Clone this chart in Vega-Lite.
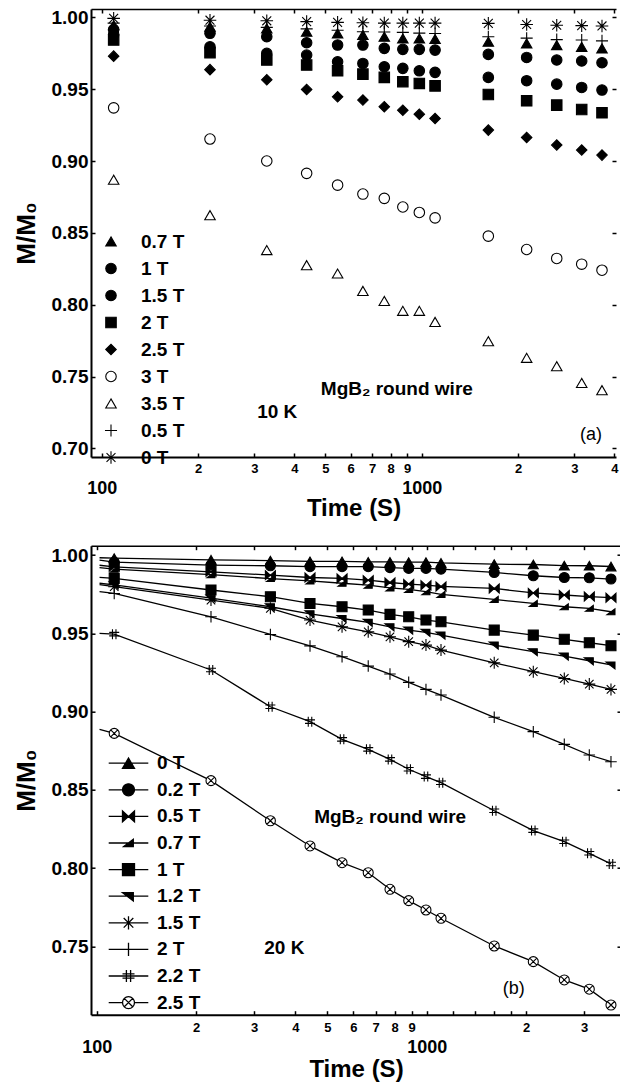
{
  "$schema": "https://vega.github.io/schema/vega-lite/v6.json",
  "padding": {"left": 13, "top": 8, "right": 0, "bottom": 0},
  "bounds": "flush",
  "spacing": 88.7,
  "background": "white",
  "config": {
    "font": "Liberation Sans",
    "view": {"stroke": null},
    "axis": {"grid": false, "domainColor": "black", "tickColor": "black", "labelColor": "black", "titleColor": "black", "labelFont": "Liberation Sans", "titleFont": "Liberation Sans", "labelFontWeight": "bold", "titleFontWeight": "bold", "domainWidth": 2, "tickWidth": 1.5, "tickSize": -4, "labelFlush": false, "labelOverlap": false, "labelBound": false},
    "legend": {"labelFont": "Liberation Sans", "labelFontWeight": "bold", "labelColor": "black", "labelFontSize": 19, "padding": 0, "symbolStrokeColor": "black", "symbolOpacity": 1, "direction": "vertical", "orient": "none"}
  },
  "datasets": {
    "a": [
      {"s": "0 T", "t": 109, "v": 0.9993}, {"s": "0 T", "t": 218, "v": 0.998}, {"s": "0 T", "t": 328, "v": 0.9976}, {"s": "0 T", "t": 437, "v": 0.997}, {"s": "0 T", "t": 546, "v": 0.9965}, {"s": "0 T", "t": 655, "v": 0.9962}, {"s": "0 T", "t": 764, "v": 0.996}, {"s": "0 T", "t": 873, "v": 0.996}, {"s": "0 T", "t": 983, "v": 0.996}, {"s": "0 T", "t": 1101, "v": 0.996}, {"s": "0 T", "t": 1615, "v": 0.9958}, {"s": "0 T", "t": 2128, "v": 0.995}, {"s": "0 T", "t": 2642, "v": 0.9945}, {"s": "0 T", "t": 3162, "v": 0.9942}, {"s": "0 T", "t": 3659, "v": 0.994},
      {"s": "0.5 T", "t": 109, "v": 0.996}, {"s": "0.5 T", "t": 218, "v": 0.994}, {"s": "0.5 T", "t": 328, "v": 0.993}, {"s": "0.5 T", "t": 437, "v": 0.992}, {"s": "0.5 T", "t": 546, "v": 0.991}, {"s": "0.5 T", "t": 655, "v": 0.99}, {"s": "0.5 T", "t": 764, "v": 0.9898}, {"s": "0.5 T", "t": 873, "v": 0.9895}, {"s": "0.5 T", "t": 983, "v": 0.989}, {"s": "0.5 T", "t": 1101, "v": 0.9888}, {"s": "0.5 T", "t": 1615, "v": 0.9865}, {"s": "0.5 T", "t": 2128, "v": 0.9855}, {"s": "0.5 T", "t": 2642, "v": 0.9845}, {"s": "0.5 T", "t": 3162, "v": 0.9842}, {"s": "0.5 T", "t": 3659, "v": 0.9836},
      {"s": "0.7 T", "t": 109, "v": 0.9945}, {"s": "0.7 T", "t": 218, "v": 0.9935}, {"s": "0.7 T", "t": 328, "v": 0.9923}, {"s": "0.7 T", "t": 437, "v": 0.99}, {"s": "0.7 T", "t": 546, "v": 0.9888}, {"s": "0.7 T", "t": 655, "v": 0.9877}, {"s": "0.7 T", "t": 764, "v": 0.9865}, {"s": "0.7 T", "t": 873, "v": 0.9853}, {"s": "0.7 T", "t": 983, "v": 0.9853}, {"s": "0.7 T", "t": 1101, "v": 0.9849}, {"s": "0.7 T", "t": 1615, "v": 0.983}, {"s": "0.7 T", "t": 2128, "v": 0.9819}, {"s": "0.7 T", "t": 2642, "v": 0.9807}, {"s": "0.7 T", "t": 3162, "v": 0.9795}, {"s": "0.7 T", "t": 3659, "v": 0.9784},
      {"s": "1 T", "t": 109, "v": 0.9915}, {"s": "1 T", "t": 218, "v": 0.9889}, {"s": "1 T", "t": 328, "v": 0.9865}, {"s": "1 T", "t": 437, "v": 0.9823}, {"s": "1 T", "t": 546, "v": 0.9807}, {"s": "1 T", "t": 655, "v": 0.9807}, {"s": "1 T", "t": 764, "v": 0.9784}, {"s": "1 T", "t": 873, "v": 0.9777}, {"s": "1 T", "t": 983, "v": 0.9777}, {"s": "1 T", "t": 1101, "v": 0.9772}, {"s": "1 T", "t": 1615, "v": 0.9742}, {"s": "1 T", "t": 2128, "v": 0.9721}, {"s": "1 T", "t": 2642, "v": 0.9703}, {"s": "1 T", "t": 3162, "v": 0.9696}, {"s": "1 T", "t": 3659, "v": 0.9684},
      {"s": "1.5 T", "t": 109, "v": 0.988}, {"s": "1.5 T", "t": 218, "v": 0.9795}, {"s": "1.5 T", "t": 328, "v": 0.9749}, {"s": "1.5 T", "t": 437, "v": 0.9737}, {"s": "1.5 T", "t": 546, "v": 0.9691}, {"s": "1.5 T", "t": 655, "v": 0.9679}, {"s": "1.5 T", "t": 764, "v": 0.9656}, {"s": "1.5 T", "t": 873, "v": 0.9645}, {"s": "1.5 T", "t": 983, "v": 0.9628}, {"s": "1.5 T", "t": 1101, "v": 0.9617}, {"s": "1.5 T", "t": 1615, "v": 0.9582}, {"s": "1.5 T", "t": 2128, "v": 0.9559}, {"s": "1.5 T", "t": 2642, "v": 0.9535}, {"s": "1.5 T", "t": 3162, "v": 0.9512}, {"s": "1.5 T", "t": 3659, "v": 0.9494},
      {"s": "2 T", "t": 109, "v": 0.9842}, {"s": "2 T", "t": 218, "v": 0.9754}, {"s": "2 T", "t": 328, "v": 0.9703}, {"s": "2 T", "t": 437, "v": 0.9668}, {"s": "2 T", "t": 546, "v": 0.9628}, {"s": "2 T", "t": 655, "v": 0.9605}, {"s": "2 T", "t": 764, "v": 0.9582}, {"s": "2 T", "t": 873, "v": 0.9552}, {"s": "2 T", "t": 983, "v": 0.954}, {"s": "2 T", "t": 1101, "v": 0.9523}, {"s": "2 T", "t": 1615, "v": 0.9463}, {"s": "2 T", "t": 2128, "v": 0.9419}, {"s": "2 T", "t": 2642, "v": 0.9389}, {"s": "2 T", "t": 3162, "v": 0.9359}, {"s": "2 T", "t": 3659, "v": 0.9336},
      {"s": "2.5 T", "t": 109, "v": 0.973}, {"s": "2.5 T", "t": 218, "v": 0.9636}, {"s": "2.5 T", "t": 328, "v": 0.9565}, {"s": "2.5 T", "t": 437, "v": 0.9498}, {"s": "2.5 T", "t": 546, "v": 0.9447}, {"s": "2.5 T", "t": 655, "v": 0.9424}, {"s": "2.5 T", "t": 764, "v": 0.9378}, {"s": "2.5 T", "t": 873, "v": 0.9354}, {"s": "2.5 T", "t": 983, "v": 0.9326}, {"s": "2.5 T", "t": 1101, "v": 0.9296}, {"s": "2.5 T", "t": 1615, "v": 0.9215}, {"s": "2.5 T", "t": 2128, "v": 0.9164}, {"s": "2.5 T", "t": 2642, "v": 0.9111}, {"s": "2.5 T", "t": 3162, "v": 0.9076}, {"s": "2.5 T", "t": 3659, "v": 0.9041},
      {"s": "3 T", "t": 109, "v": 0.937}, {"s": "3 T", "t": 218, "v": 0.9153}, {"s": "3 T", "t": 328, "v": 0.9}, {"s": "3 T", "t": 437, "v": 0.8914}, {"s": "3 T", "t": 546, "v": 0.8832}, {"s": "3 T", "t": 655, "v": 0.877}, {"s": "3 T", "t": 764, "v": 0.874}, {"s": "3 T", "t": 873, "v": 0.868}, {"s": "3 T", "t": 983, "v": 0.8642}, {"s": "3 T", "t": 1101, "v": 0.8604}, {"s": "3 T", "t": 1615, "v": 0.8477}, {"s": "3 T", "t": 2128, "v": 0.8384}, {"s": "3 T", "t": 2642, "v": 0.8322}, {"s": "3 T", "t": 3162, "v": 0.8282}, {"s": "3 T", "t": 3659, "v": 0.824},
      {"s": "3.5 T", "t": 109, "v": 0.887}, {"s": "3.5 T", "t": 218, "v": 0.8623}, {"s": "3.5 T", "t": 328, "v": 0.838}, {"s": "3.5 T", "t": 437, "v": 0.8275}, {"s": "3.5 T", "t": 546, "v": 0.8217}, {"s": "3.5 T", "t": 655, "v": 0.8096}, {"s": "3.5 T", "t": 764, "v": 0.8026}, {"s": "3.5 T", "t": 873, "v": 0.7957}, {"s": "3.5 T", "t": 983, "v": 0.7957}, {"s": "3.5 T", "t": 1101, "v": 0.788}, {"s": "3.5 T", "t": 1615, "v": 0.7746}, {"s": "3.5 T", "t": 2128, "v": 0.763}, {"s": "3.5 T", "t": 2642, "v": 0.7572}, {"s": "3.5 T", "t": 3162, "v": 0.7455}, {"s": "3.5 T", "t": 3659, "v": 0.7405}
    ],
    "b": [
      {"s": "0 T", "t": 102, "v": 0.9983}, {"s": "0 T", "t": 113, "v": 0.998}, {"s": "0 T", "t": 222, "v": 0.997}, {"s": "0 T", "t": 336, "v": 0.9965}, {"s": "0 T", "t": 443, "v": 0.996}, {"s": "0 T", "t": 554, "v": 0.996}, {"s": "0 T", "t": 665, "v": 0.9957}, {"s": "0 T", "t": 774, "v": 0.9957}, {"s": "0 T", "t": 882, "v": 0.9955}, {"s": "0 T", "t": 995, "v": 0.9955}, {"s": "0 T", "t": 1105, "v": 0.995}, {"s": "0 T", "t": 1602, "v": 0.9942}, {"s": "0 T", "t": 2104, "v": 0.994}, {"s": "0 T", "t": 2612, "v": 0.9933}, {"s": "0 T", "t": 3110, "v": 0.9932}, {"s": "0 T", "t": 3618, "v": 0.9927},
      {"s": "0.2 T", "t": 102, "v": 0.9968}, {"s": "0.2 T", "t": 113, "v": 0.9955}, {"s": "0.2 T", "t": 222, "v": 0.9936}, {"s": "0.2 T", "t": 336, "v": 0.9932}, {"s": "0.2 T", "t": 443, "v": 0.9926}, {"s": "0.2 T", "t": 554, "v": 0.9926}, {"s": "0.2 T", "t": 665, "v": 0.9926}, {"s": "0.2 T", "t": 774, "v": 0.992}, {"s": "0.2 T", "t": 882, "v": 0.9915}, {"s": "0.2 T", "t": 995, "v": 0.9915}, {"s": "0.2 T", "t": 1105, "v": 0.991}, {"s": "0.2 T", "t": 1602, "v": 0.9889}, {"s": "0.2 T", "t": 2104, "v": 0.9868}, {"s": "0.2 T", "t": 2612, "v": 0.9857}, {"s": "0.2 T", "t": 3110, "v": 0.9855}, {"s": "0.2 T", "t": 3618, "v": 0.9847},
      {"s": "0.5 T", "t": 102, "v": 0.9935}, {"s": "0.5 T", "t": 113, "v": 0.9925}, {"s": "0.5 T", "t": 222, "v": 0.9893}, {"s": "0.5 T", "t": 336, "v": 0.9872}, {"s": "0.5 T", "t": 443, "v": 0.9857}, {"s": "0.5 T", "t": 554, "v": 0.9851}, {"s": "0.5 T", "t": 665, "v": 0.984}, {"s": "0.5 T", "t": 774, "v": 0.9825}, {"s": "0.5 T", "t": 882, "v": 0.9815}, {"s": "0.5 T", "t": 995, "v": 0.9808}, {"s": "0.5 T", "t": 1105, "v": 0.98}, {"s": "0.5 T", "t": 1602, "v": 0.9787}, {"s": "0.5 T", "t": 2104, "v": 0.9758}, {"s": "0.5 T", "t": 2612, "v": 0.9745}, {"s": "0.5 T", "t": 3110, "v": 0.9735}, {"s": "0.5 T", "t": 3618, "v": 0.9728},
      {"s": "0.7 T", "t": 102, "v": 0.992}, {"s": "0.7 T", "t": 113, "v": 0.991}, {"s": "0.7 T", "t": 222, "v": 0.9875}, {"s": "0.7 T", "t": 336, "v": 0.985}, {"s": "0.7 T", "t": 443, "v": 0.9835}, {"s": "0.7 T", "t": 554, "v": 0.982}, {"s": "0.7 T", "t": 665, "v": 0.9808}, {"s": "0.7 T", "t": 774, "v": 0.979}, {"s": "0.7 T", "t": 882, "v": 0.9781}, {"s": "0.7 T", "t": 995, "v": 0.9766}, {"s": "0.7 T", "t": 1105, "v": 0.9749}, {"s": "0.7 T", "t": 1602, "v": 0.9717}, {"s": "0.7 T", "t": 2104, "v": 0.9691}, {"s": "0.7 T", "t": 2612, "v": 0.967}, {"s": "0.7 T", "t": 3110, "v": 0.966}, {"s": "0.7 T", "t": 3618, "v": 0.9638},
      {"s": "1 T", "t": 102, "v": 0.9858}, {"s": "1 T", "t": 113, "v": 0.9851}, {"s": "1 T", "t": 222, "v": 0.9777}, {"s": "1 T", "t": 336, "v": 0.9734}, {"s": "1 T", "t": 443, "v": 0.9691}, {"s": "1 T", "t": 554, "v": 0.967}, {"s": "1 T", "t": 665, "v": 0.9649}, {"s": "1 T", "t": 774, "v": 0.9621}, {"s": "1 T", "t": 882, "v": 0.9606}, {"s": "1 T", "t": 995, "v": 0.9585}, {"s": "1 T", "t": 1105, "v": 0.9574}, {"s": "1 T", "t": 1602, "v": 0.9521}, {"s": "1 T", "t": 2104, "v": 0.9489}, {"s": "1 T", "t": 2612, "v": 0.9462}, {"s": "1 T", "t": 3110, "v": 0.944}, {"s": "1 T", "t": 3618, "v": 0.9421},
      {"s": "1.2 T", "t": 102, "v": 0.982}, {"s": "1.2 T", "t": 113, "v": 0.981}, {"s": "1.2 T", "t": 222, "v": 0.9725}, {"s": "1.2 T", "t": 336, "v": 0.967}, {"s": "1.2 T", "t": 443, "v": 0.9625}, {"s": "1.2 T", "t": 554, "v": 0.9595}, {"s": "1.2 T", "t": 665, "v": 0.957}, {"s": "1.2 T", "t": 774, "v": 0.9542}, {"s": "1.2 T", "t": 882, "v": 0.9521}, {"s": "1.2 T", "t": 995, "v": 0.9506}, {"s": "1.2 T", "t": 1105, "v": 0.9489}, {"s": "1.2 T", "t": 1602, "v": 0.9425}, {"s": "1.2 T", "t": 2104, "v": 0.9383}, {"s": "1.2 T", "t": 2612, "v": 0.9355}, {"s": "1.2 T", "t": 3110, "v": 0.9325}, {"s": "1.2 T", "t": 3618, "v": 0.9298},
      {"s": "1.5 T", "t": 102, "v": 0.9812}, {"s": "1.5 T", "t": 113, "v": 0.9798}, {"s": "1.5 T", "t": 222, "v": 0.9713}, {"s": "1.5 T", "t": 336, "v": 0.966}, {"s": "1.5 T", "t": 443, "v": 0.9585}, {"s": "1.5 T", "t": 554, "v": 0.9542}, {"s": "1.5 T", "t": 665, "v": 0.951}, {"s": "1.5 T", "t": 774, "v": 0.9478}, {"s": "1.5 T", "t": 882, "v": 0.9447}, {"s": "1.5 T", "t": 995, "v": 0.9425}, {"s": "1.5 T", "t": 1105, "v": 0.9393}, {"s": "1.5 T", "t": 1602, "v": 0.9312}, {"s": "1.5 T", "t": 2104, "v": 0.9255}, {"s": "1.5 T", "t": 2612, "v": 0.9212}, {"s": "1.5 T", "t": 3110, "v": 0.9176}, {"s": "1.5 T", "t": 3618, "v": 0.9142},
      {"s": "2 T", "t": 102, "v": 0.9766}, {"s": "2 T", "t": 113, "v": 0.9755}, {"s": "2 T", "t": 222, "v": 0.9606}, {"s": "2 T", "t": 336, "v": 0.9493}, {"s": "2 T", "t": 443, "v": 0.942}, {"s": "2 T", "t": 554, "v": 0.9351}, {"s": "2 T", "t": 665, "v": 0.9291}, {"s": "2 T", "t": 774, "v": 0.924}, {"s": "2 T", "t": 882, "v": 0.9187}, {"s": "2 T", "t": 995, "v": 0.9142}, {"s": "2 T", "t": 1105, "v": 0.9106}, {"s": "2 T", "t": 1602, "v": 0.8964}, {"s": "2 T", "t": 2104, "v": 0.8872}, {"s": "2 T", "t": 2612, "v": 0.8791}, {"s": "2 T", "t": 3110, "v": 0.8723}, {"s": "2 T", "t": 3618, "v": 0.868},
      {"s": "2.2 T", "t": 102, "v": 0.95}, {"s": "2.2 T", "t": 113, "v": 0.9495}, {"s": "2.2 T", "t": 222, "v": 0.9266}, {"s": "2.2 T", "t": 336, "v": 0.9031}, {"s": "2.2 T", "t": 443, "v": 0.8936}, {"s": "2.2 T", "t": 554, "v": 0.8823}, {"s": "2.2 T", "t": 665, "v": 0.8759}, {"s": "2.2 T", "t": 774, "v": 0.8695}, {"s": "2.2 T", "t": 882, "v": 0.8632}, {"s": "2.2 T", "t": 995, "v": 0.8585}, {"s": "2.2 T", "t": 1105, "v": 0.8546}, {"s": "2.2 T", "t": 1602, "v": 0.8367}, {"s": "2.2 T", "t": 2104, "v": 0.824}, {"s": "2.2 T", "t": 2612, "v": 0.8169}, {"s": "2.2 T", "t": 3110, "v": 0.8095}, {"s": "2.2 T", "t": 3618, "v": 0.8027},
      {"s": "2.5 T", "t": 102, "v": 0.8887}, {"s": "2.5 T", "t": 113, "v": 0.8861}, {"s": "2.5 T", "t": 222, "v": 0.8559}, {"s": "2.5 T", "t": 336, "v": 0.8303}, {"s": "2.5 T", "t": 443, "v": 0.8142}, {"s": "2.5 T", "t": 554, "v": 0.8035}, {"s": "2.5 T", "t": 665, "v": 0.7971}, {"s": "2.5 T", "t": 774, "v": 0.7865}, {"s": "2.5 T", "t": 882, "v": 0.7793}, {"s": "2.5 T", "t": 995, "v": 0.7733}, {"s": "2.5 T", "t": 1105, "v": 0.768}, {"s": "2.5 T", "t": 1602, "v": 0.7503}, {"s": "2.5 T", "t": 2104, "v": 0.7403}, {"s": "2.5 T", "t": 2612, "v": 0.7286}, {"s": "2.5 T", "t": 3110, "v": 0.7227}, {"s": "2.5 T", "t": 3618, "v": 0.7126}
    ]
  },
  "vconcat": [
    {
      "width": 525,
      "height": 448,
      "data": {"name": "a"},
      "resolve": {"axis": {"x": "independent", "y": "independent"}},
      "layer": [
        {
          "mark": {"type": "point", "stroke": "black", "strokeWidth": 1.1, "size": 110, "opacity": 1},
          "encoding": {
            "x": {"field": "t", "type": "quantitative", "scale": {"type": "log", "domain": [92.6, 4047], "nice": false},
              "axis": {"orient": "bottom", "title": "Time (S)", "titleFontSize": 24, "titlePadding": -1, "values": [100, 200, 300, 400, 500, 600, 700, 800, 900, 1000, 2000, 3000, 4000],
                "labelExpr": "datum.value == 100 ? ['', '100'] : datum.value == 1000 ? ['', '1000'] : datum.value < 1000 ? '' + (datum.value / 100) : '' + (datum.value / 1000)",
                "labelFontSize": {"condition": {"test": "datum.value == 100 || datum.value == 1000", "value": 18}, "value": 13},
                "labelLineHeight": 17, "labelPadding": 9.6}},
            "y": {"field": "v", "type": "quantitative", "scale": {"domain": [0.694, 1.0058], "nice": false, "zero": false},
              "axis": {"orient": "left", "title": "M/M₀", "titleFontSize": 26, "titlePadding": 12, "values": [0.7, 0.75, 0.8, 0.85, 0.9, 0.95, 1.0], "format": ".2f", "labelFontSize": 19, "labelPadding": 7}},
            "shape": {"field": "s", "type": "nominal",
              "scale": {"domain": ["0.7 T", "1 T", "1.5 T", "2 T", "2.5 T", "3 T", "3.5 T", "0.5 T", "0 T"],
                "range": ["triangle-up", "circle", "circle", "square", "diamond", "circle", "triangle-up", "M-1.15,0L1.15,0M0,-1.15L0,1.15", "M-1.2,0L1.2,0M0,-1.2L0,1.2M-0.85,-0.85L0.85,0.85M-0.85,0.85L0.85,-0.85"]},
              "legend": {"title": null, "legendX": 10.5, "legendY": 223, "labelOffset": 20.5, "rowPadding": 7, "symbolSize": 110,
                "encode": {"symbols": {"update": {"stroke": {"value": "black"}, "strokeWidth": {"value": 1.1}, "opacity": {"value": 1}}}}}},
            "fill": {"field": "s", "type": "nominal",
              "scale": {"domain": ["0.7 T", "1 T", "1.5 T", "2 T", "2.5 T", "3 T", "3.5 T", "0.5 T", "0 T"],
                "range": ["black", "black", "black", "black", "black", "white", "white", "black", "black"]},
              "legend": {"title": null, "legendX": 10.5, "legendY": 223, "labelOffset": 20.5, "rowPadding": 7, "symbolSize": 110,
                "encode": {"symbols": {"update": {"stroke": {"value": "black"}, "strokeWidth": {"value": 1.1}, "opacity": {"value": 1}}}}}}
          }
        },
        {
          "mark": {"type": "point", "opacity": 0},
          "encoding": {
            "x": {"field": "t", "type": "quantitative", "axis": {"orient": "top", "title": null, "labels": false, "domainWidth": 1.5, "values": [100, 200, 300, 400, 500, 600, 700, 800, 900, 1000, 2000, 3000, 4000]}},
            "y": {"field": "v", "type": "quantitative", "axis": {"orient": "right", "title": null, "labels": false, "domain": false, "values": [0.7, 0.75, 0.8, 0.85, 0.9, 0.95, 1.0]}}
          }
        },
        {
          "data": {"values": [{"t": 484, "v": 0.741, "label": "MgB₂ round wire"}]},
          "mark": {"type": "text", "align": "left", "baseline": "middle", "fontSize": 19, "fontWeight": "bold", "font": "Liberation Sans", "color": "black"},
          "encoding": {"x": {"field": "t", "type": "quantitative", "axis": null}, "y": {"field": "v", "type": "quantitative", "axis": null}, "text": {"field": "label"}}
        },
        {
          "data": {"values": [{"t": 306, "v": 0.725, "label": "10 K"}]},
          "mark": {"type": "text", "align": "left", "baseline": "middle", "fontSize": 19, "fontWeight": "bold", "font": "Liberation Sans", "color": "black"},
          "encoding": {"x": {"field": "t", "type": "quantitative", "axis": null}, "y": {"field": "v", "type": "quantitative", "axis": null}, "text": {"field": "label"}}
        },
        {
          "data": {"values": [{"t": 3124, "v": 0.709, "label": "(a)"}]},
          "mark": {"type": "text", "align": "left", "baseline": "middle", "fontSize": 18, "font": "Liberation Sans", "color": "black"},
          "encoding": {"x": {"field": "t", "type": "quantitative", "axis": null}, "y": {"field": "v", "type": "quantitative", "axis": null}, "text": {"field": "label"}}
        }
      ]
    },
    {
      "width": 530,
      "height": 469,
      "data": {"name": "b"},
      "resolve": {"axis": {"x": "independent", "y": "independent"}, "scale": {"shape": "independent", "fill": "independent"}},
      "layer": [
        {
          "mark": {"type": "line", "color": "black", "strokeWidth": 1.3},
          "encoding": {
            "x": {"field": "t", "type": "quantitative", "scale": {"type": "log", "domain": [96.1, 3880], "nice": false}, "axis": null},
            "y": {"field": "v", "type": "quantitative", "scale": {"domain": [0.7064, 1.006], "nice": false, "zero": false}, "axis": null},
            "detail": {"field": "s", "type": "nominal"}
          }
        },
        {
          "transform": [{"filter": "datum.t > 105"}],
          "mark": {"type": "point", "stroke": "black", "strokeWidth": 1.1, "size": 100, "opacity": 1},
          "encoding": {
            "x": {"field": "t", "type": "quantitative",
              "axis": {"orient": "bottom", "title": "Time (S)", "titleFontSize": 24, "titlePadding": 1, "values": [100, 200, 300, 400, 500, 600, 700, 800, 900, 1000, 1200, 1400, 1600, 1800, 2000, 3000],
                "labelExpr": "datum.value == 100 ? ['', '100'] : datum.value == 1000 ? ['', '1000'] : datum.value < 1000 ? '' + (datum.value / 100) : (datum.value == 1200 || datum.value == 1400 || datum.value == 1600 || datum.value == 1800) ? '' : '' + (datum.value / 1000)",
                "labelFontSize": {"condition": {"test": "datum.value == 100 || datum.value == 1000", "value": 18}, "value": 13},
                "labelLineHeight": 17, "labelPadding": 10.6}},
            "y": {"field": "v", "type": "quantitative",
              "axis": {"orient": "left", "title": "M/M₀", "titleFontSize": 26, "titlePadding": 12, "values": [0.75, 0.8, 0.85, 0.9, 0.95, 1.0], "format": ".2f", "labelFontSize": 19, "labelPadding": 7}},
            "shape": {"field": "s", "type": "nominal",
              "scale": {"domain": ["0 T", "0.2 T", "0.5 T", "0.7 T", "1 T", "1.2 T", "1.5 T", "2 T", "2.2 T", "2.5 T"],
                "range": ["triangle-up", "circle", "M-1,-0.9L-1,0.9L0,0ZM1,-0.9L1,0.9L0,0Z", "M-0.8,0.6L0.8,-0.6L0.8,0.6Z", "square", "M-1,-0.6L0.8,-0.6L0.8,0.8Z", "M-1.2,0L1.2,0M0,-1.2L0,1.2M-0.85,-0.85L0.85,0.85M-0.85,0.85L0.85,-0.85", "M-1.15,0L1.15,0M0,-1.15L0,1.15", "M-0.35,-1L-0.35,1M0.35,-1L0.35,1M-1,-0.35L1,-0.35M-1,0.35L1,0.35", "M1,0A1,1,0,1,1,-1,0A1,1,0,1,1,1,0ZM-0.7,-0.7L0.7,0.7M-0.7,0.7L0.7,-0.7"]},
              "legend": null},
            "fill": {"field": "s", "type": "nominal",
              "scale": {"domain": ["0 T", "0.2 T", "0.5 T", "0.7 T", "1 T", "1.2 T", "1.5 T", "2 T", "2.2 T", "2.5 T"],
                "range": ["black", "black", "black", "black", "black", "black", "black", "black", "black", "white"]},
              "legend": null}
          }
        },
        {
          "transform": [{"filter": "datum.t > 105"}],
          "mark": {"type": "point", "stroke": "black", "strokeWidth": 1.3, "size": 144, "opacity": 0},
          "encoding": {
            "x": {"field": "t", "type": "quantitative", "axis": {"orient": "top", "title": null, "labels": false, "domainWidth": 1.5, "values": [100, 200, 300, 400, 500, 600, 700, 800, 900, 1000, 1200, 1400, 1600, 1800, 2000, 3000]}},
            "y": {"field": "v", "type": "quantitative", "axis": {"orient": "right", "title": null, "labels": false, "domain": false, "values": [0.75, 0.8, 0.85, 0.9, 0.95, 1.0]}},
            "shape": {"field": "s", "type": "nominal",
              "scale": {"domain": ["0 T", "0.2 T", "0.5 T", "0.7 T", "1 T", "1.2 T", "1.5 T", "2 T", "2.2 T", "2.5 T"],
                "range": ["M-3.3,0L3.3,0M0,-0.866L-1,0.866L1,0.866Z", "M-3.3,0L3.3,0M1,0A1,1,0,1,1,-1,0A1,1,0,1,1,1,0Z", "M-3.3,0L3.3,0M-1,-0.9L-1,0.9L0,0ZM1,-0.9L1,0.9L0,0Z", "M-3.3,0L3.3,0M-0.8,0.6L0.8,-0.6L0.8,0.6Z", "M-3.3,0L3.3,0M-1,-1L1,-1L1,1L-1,1Z", "M-3.3,0L3.3,0M-1,-0.6L0.8,-0.6L0.8,0.8Z", "M-3.3,0L3.3,0M0,-1.1L0,1.1M-0.8,-0.8L0.8,0.8M-0.8,0.8L0.8,-0.8", "M-3.3,0L3.3,0M0,-1.1L0,1.1", "M-3.3,0L3.3,0M-0.35,-1L-0.35,1M0.35,-1L0.35,1M-1,-0.35L1,-0.35M-1,0.35L1,0.35", "M-3.3,0L-1,0M1,0L3.3,0M1,0A1,1,0,1,1,-1,0A1,1,0,1,1,1,0ZM-0.7,-0.7L0.7,0.7M-0.7,0.7L0.7,-0.7"]},
              "legend": {"title": null, "legendX": 28, "legendY": 208, "labelOffset": 19, "rowPadding": 6.6, "symbolSize": 144,
                "encode": {"symbols": {"update": {"stroke": {"value": "black"}, "strokeWidth": {"value": 1.3}, "opacity": {"value": 1}}}}}},
            "fill": {"field": "s", "type": "nominal",
              "scale": {"domain": ["0 T", "0.2 T", "0.5 T", "0.7 T", "1 T", "1.2 T", "1.5 T", "2 T", "2.2 T", "2.5 T"],
                "range": ["black", "black", "black", "black", "black", "black", "black", "black", "black", "white"]},
              "legend": {"title": null, "legendX": 28, "legendY": 208, "labelOffset": 19, "rowPadding": 6.6, "symbolSize": 144,
                "encode": {"symbols": {"update": {"stroke": {"value": "black"}, "strokeWidth": {"value": 1.3}, "opacity": {"value": 1}}}}}}
          }
        },
        {
          "data": {"values": [{"t": 456, "v": 0.833, "label": "MgB₂ round wire"}]},
          "mark": {"type": "text", "align": "left", "baseline": "middle", "fontSize": 19, "fontWeight": "bold", "font": "Liberation Sans", "color": "black"},
          "encoding": {"x": {"field": "t", "type": "quantitative", "axis": null}, "y": {"field": "v", "type": "quantitative", "axis": null}, "text": {"field": "label"}}
        },
        {
          "data": {"values": [{"t": 322, "v": 0.749, "label": "20 K"}]},
          "mark": {"type": "text", "align": "left", "baseline": "middle", "fontSize": 19, "fontWeight": "bold", "font": "Liberation Sans", "color": "black"},
          "encoding": {"x": {"field": "t", "type": "quantitative", "axis": null}, "y": {"field": "v", "type": "quantitative", "axis": null}, "text": {"field": "label"}}
        },
        {
          "data": {"values": [{"t": 1699, "v": 0.723, "label": "(b)"}]},
          "mark": {"type": "text", "align": "left", "baseline": "middle", "fontSize": 18, "font": "Liberation Sans", "color": "black"},
          "encoding": {"x": {"field": "t", "type": "quantitative", "axis": null}, "y": {"field": "v", "type": "quantitative", "axis": null}, "text": {"field": "label"}}
        }
      ]
    }
  ]
}
